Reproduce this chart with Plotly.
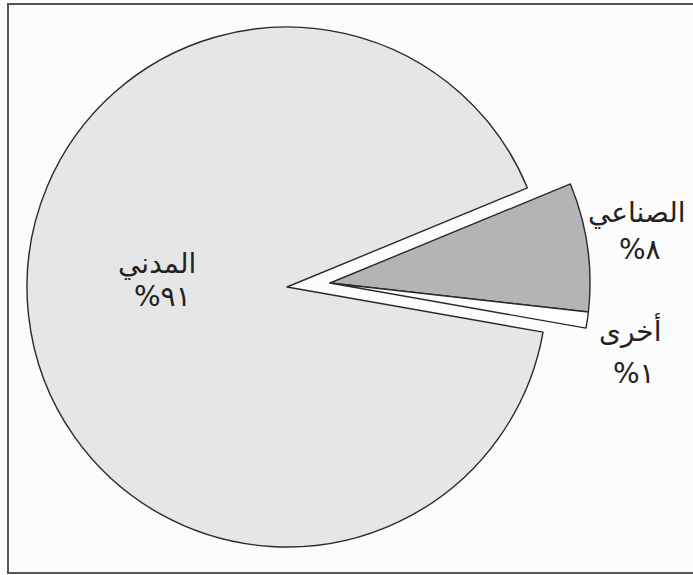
import plotly.graph_objects as go

# Water use by sector (percent)
sectors = ["الصناعي", "أخرى", "المدني"]
shares = [8, 1, 91]
pct_labels = ["%٨", "%١", "%٩١"]

fill_colors = ["#b4b4b4", "#ffffff", "#e6e6e6"]
outline = "#2a2a2a"
clear = "rgba(0,0,0,0)"

W, H = 693, 575


def dom(cx, cy, r):
    # pie domain (paper fractions) giving centre (cx, cy) and radius r in pixels
    return dict(x=[(cx - r) / W, (cx + r) / W],
                y=[(H - (cy + r)) / H, (H - (cy - r)) / H])


common = dict(labels=sectors, values=shares, sort=False, direction="clockwise",
              rotation=67.6, textinfo="none", hoverinfo="label+percent",
              showlegend=False)

fig = go.Figure()

# large civil slice, centred
fig.add_trace(go.Pie(
    **common,
    domain=dom(287, 287, 260),
    marker=dict(colors=[clear, clear, fill_colors[2]],
                line=dict(color=outline, width=[0, 0, 1.4])),
))

# industrial and other slices, pulled out to the right
fig.add_trace(go.Pie(
    **common,
    domain=dom(330, 283, 260),
    marker=dict(colors=[fill_colors[0], fill_colors[1], clear],
                line=dict(color=outline, width=[1.4, 1.4, 0])),
))

font = dict(family="DejaVu Sans, Arial, sans-serif", size=28, color="#222222")

# (x, y, anchor) for name and percentage
label_pos = {
    "المدني": ((157, 263, "center"), (162, 296, "center")),
    "الصناعي": ((586, 212, "left"), (640, 249, "center")),
    "أخرى": ((630, 330, "center"), (634, 373, "center")),
}

annotations = []
for name, pct in zip(sectors, pct_labels):
    (nx, ny, na), (px, py, pa) = label_pos[name]
    annotations.append(dict(x=nx / W, y=1 - ny / H, xref="paper", yref="paper",
                            text=name, showarrow=False, font=font,
                            xanchor=na, yanchor="middle"))
    annotations.append(dict(x=px / W, y=1 - py / H, xref="paper", yref="paper",
                            text=pct, showarrow=False, font=font,
                            xanchor=pa, yanchor="middle"))

# frame around the figure (right side runs off the page)
shapes = [dict(type="rect", xref="paper", yref="paper",
               x0=8 / W, x1=1.05, y0=2 / H, y1=1 - 4 / H,
               line=dict(color="#555555", width=2), fillcolor=clear, layer="below")]

fig.update_layout(width=W, height=H, margin=dict(l=0, r=0, t=0, b=0),
                  paper_bgcolor="#fcfcfc", plot_bgcolor="#fcfcfc",
                  annotations=annotations, shapes=shapes)

fig.write_html("out.html")
